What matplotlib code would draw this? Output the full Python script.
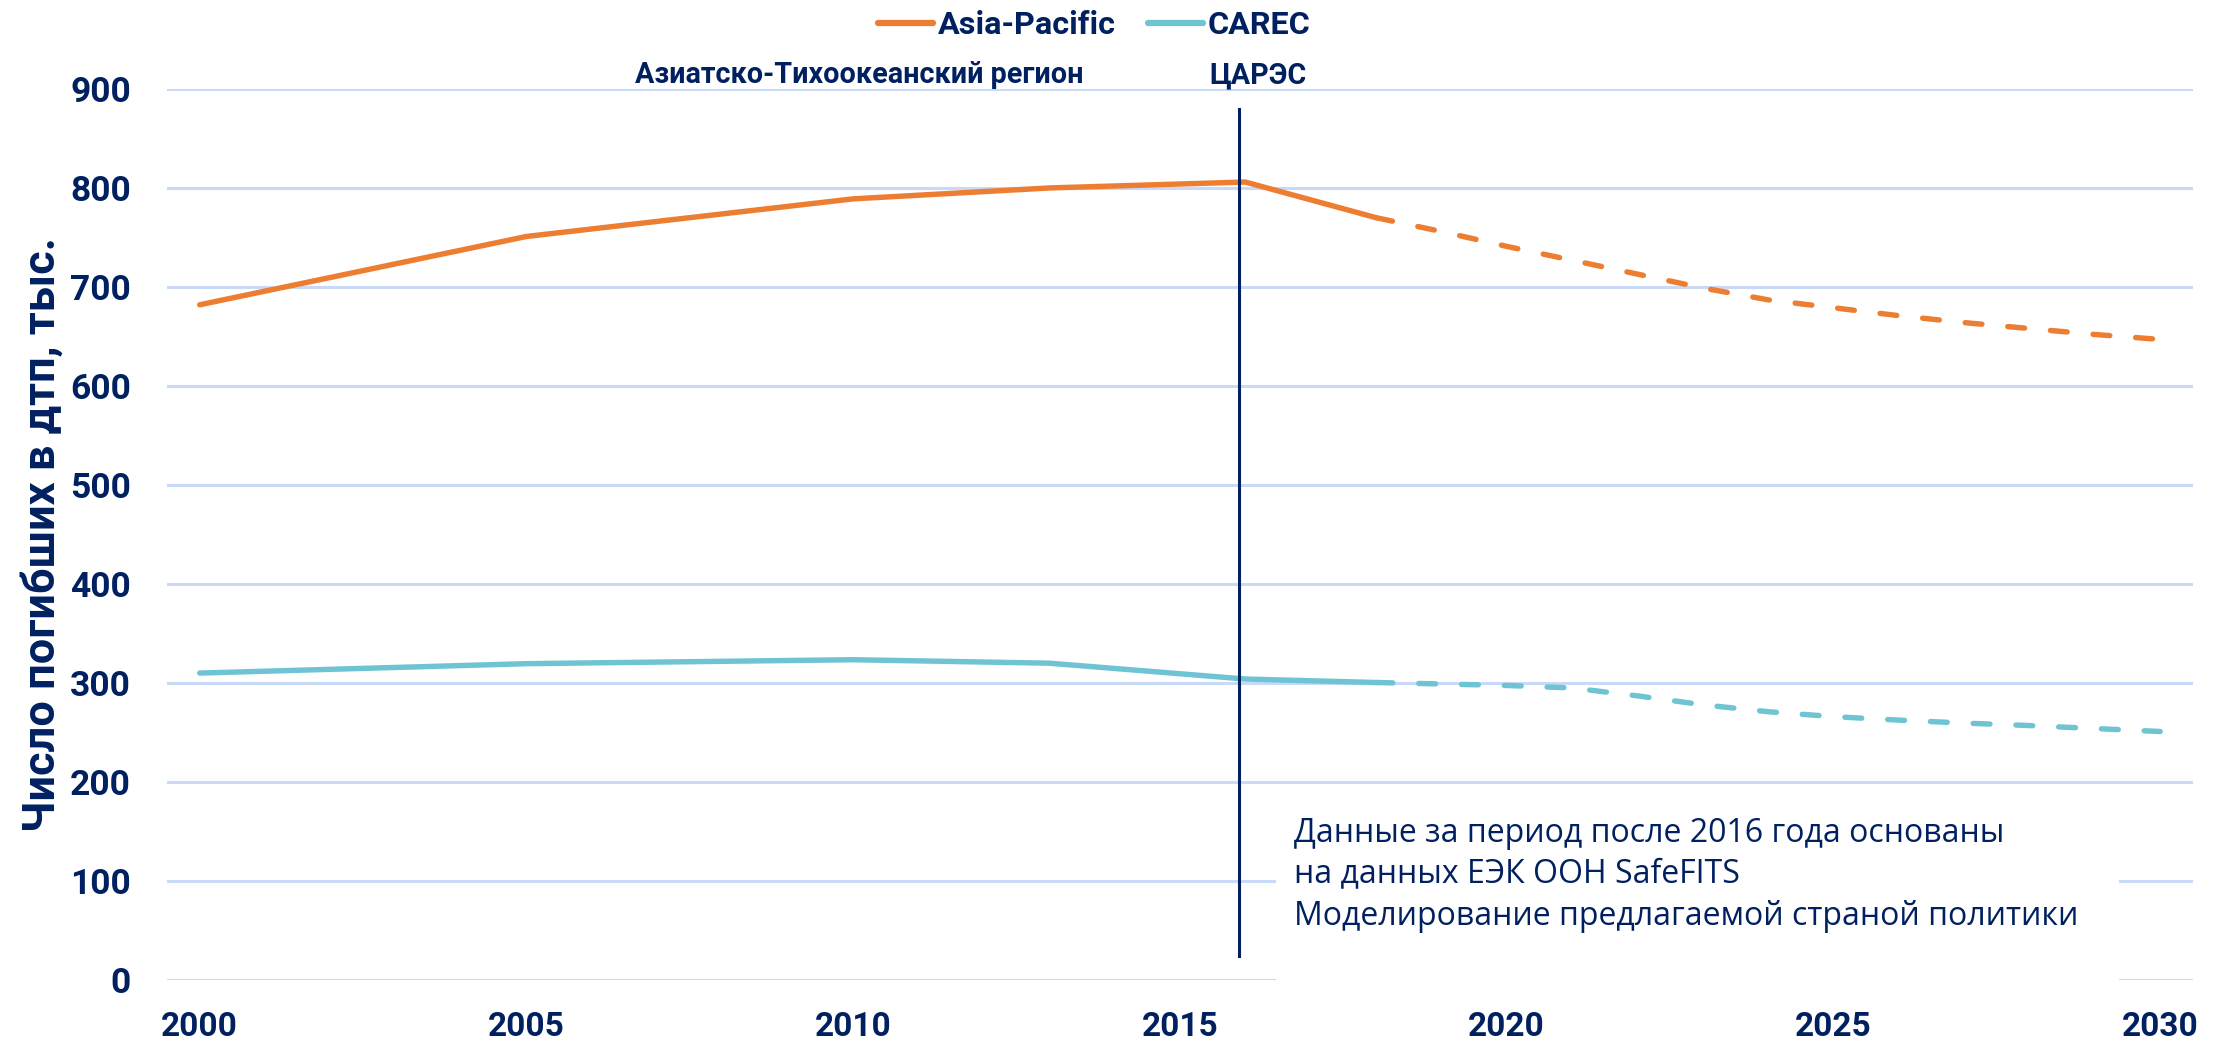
import matplotlib.pyplot as plt
from matplotlib.lines import Line2D
from matplotlib.patches import Rectangle

# Datos
years_hist = [2000, 2005, 2010, 2013, 2016, 2018]
asia_hist = [682, 751, 789, 800, 806, 770]
carec_hist = [310, 319.5, 323.5, 320, 304, 300.5]

years_proj = [2018, 2019, 2020, 2021, 2022, 2023, 2024, 2025, 2026, 2027, 2028, 2029, 2030]
asia_proj = [770, 756, 741, 727, 713, 699, 687, 679, 671, 664, 658, 652, 647]
carec_proj = [300.5, 299, 297.5, 295, 287, 278, 271, 266, 262.5, 259.5, 257, 254, 251]

x_ticks = [2000, 2005, 2010, 2015, 2020, 2025, 2030]
y_ticks = [0, 100, 200, 300, 400, 500, 600, 700, 800, 900]

NAVY = '#002060'
ORANGE = '#ED7D31'
TEAL = '#6EC4D2'
GRID = '#C9DAF8'

plt.rcParams['font.family'] = ['Roboto', 'DejaVu Sans']

fig = plt.figure(figsize=(22.24, 10.44), dpi=100)
ax = fig.add_axes([0.0751, 0.0613, 0.9109, 0.8535])

lw = 3.9
dash = (0, (3.1, 4.8))
ax.plot(years_hist, asia_hist, color=ORANGE, lw=lw, solid_capstyle='round', zorder=3)
ax.plot(years_proj, asia_proj, color=ORANGE, lw=lw, linestyle=dash, dash_capstyle='round', zorder=3)
ax.plot(years_hist, carec_hist, color=TEAL, lw=lw, solid_capstyle='round', zorder=3)
ax.plot(years_proj, carec_proj, color=TEAL, lw=lw, linestyle=dash, dash_capstyle='round', zorder=3)

# Linea vertical 2016
ax.plot([2015.9, 2015.9], [24, 880], color=NAVY, lw=2.2, zorder=4)

ax.set_xlim(1999.5, 2030.5)
ax.set_ylim(0, 900)
ax.set_xticks(x_ticks)
ax.set_yticks(y_ticks)
ax.tick_params(length=0)
ax.tick_params(axis='x', pad=22)
ax.tick_params(axis='y', pad=26)
for lab in ax.get_xticklabels():
    lab.set_fontsize(24)
    lab.set_fontweight('bold')
    lab.set_color(NAVY)
for lab in ax.get_yticklabels():
    lab.set_fontsize(25.5)
    lab.set_fontweight('bold')
    lab.set_color(NAVY)

ax.grid(axis='y', color=GRID, lw=2.2, zorder=0)
ax.set_axisbelow(True)
for s in ax.spines.values():
    s.set_visible(False)

ax.set_ylabel('Число погибших в дтп, тыс.', fontsize=32.5, fontweight='bold', color=NAVY)
ax.yaxis.set_label_coords(-0.051, 0.5)

# Caja blanca de la nota
ax.add_patch(Rectangle((2016.47, -15), 12.9, 190, facecolor='white', edgecolor='none',
                       zorder=1, clip_on=False))
ax.text(2016.75, 165,
        'Данные за период после 2016 года основаны\nна данных ЕЭК ООН SafeFITS\nМоделирование предлагаемой страной политики',
        fontsize=23, color=NAVY, va='top', ha='left', linespacing=1.35,
        family=['Open Sans', 'DejaVu Sans'], zorder=2)

# Titulos
ax.text(2010.1, 914, 'Азиатско-Тихоокеанский регион', fontsize=20.7, fontweight='bold',
        color=NAVY, ha='center', va='center')
ax.text(2016.2, 914, 'ЦАРЭС', fontsize=20.7, fontweight='bold',
        color=NAVY, ha='center', va='center')

# Leyenda
handles = [Line2D([], [], color=ORANGE, lw=4.5, solid_capstyle='round'),
           Line2D([], [], color=TEAL, lw=4.5, solid_capstyle='round')]
fig.legend(handles, ['Asia-Pacific', 'CAREC'], loc='center', bbox_to_anchor=(0.492, 0.976),
           ncol=2, frameon=False, handlelength=1.7, handletextpad=0.15, columnspacing=1.0,
           prop={'size': 23.3, 'weight': 'bold'}, labelcolor=NAVY)

fig.savefig('out.png', dpi=100)
